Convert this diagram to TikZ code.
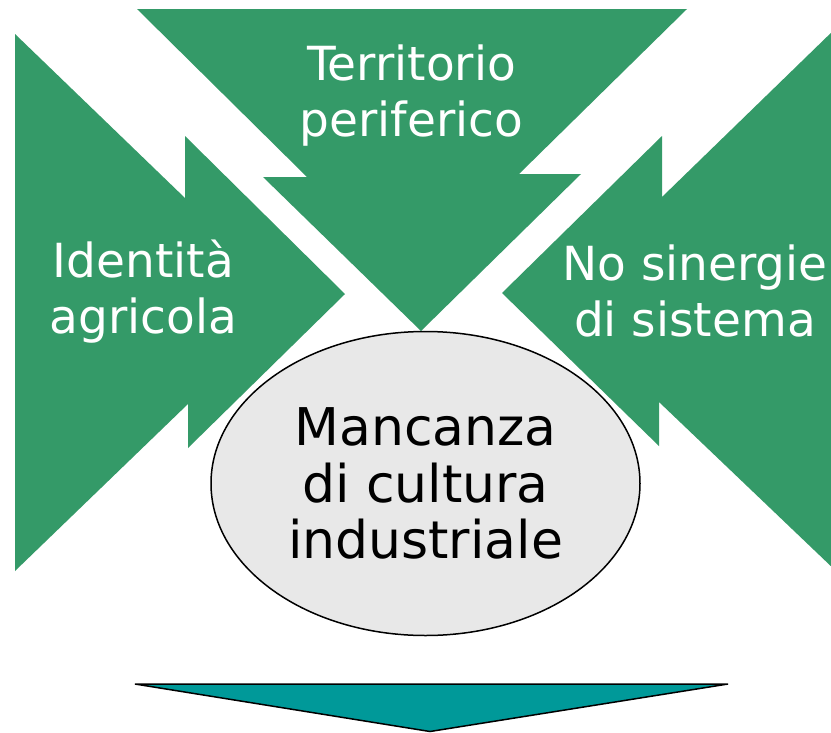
\documentclass[tikz,border=0pt]{standalone}
\usepackage{fontspec}
\setmainfont{DejaVu Sans}
\usetikzlibrary{shapes.geometric}
\definecolor{arrowgreen}{RGB}{52,154,104}
\definecolor{ellgrey}{RGB}{232,232,232}
\definecolor{tealarrow}{RGB}{0,153,153}
\begin{document}
\begin{tikzpicture}[x=1pt,y=-1pt,
  greenarrow/.style={fill=arrowgreen,draw=none},
  whitelabel/.style={text=white,font=\fontsize{47}{56}\selectfont,align=center,anchor=base,inner sep=0pt},
  corebox/.style={ellipse,draw=black,line width=1.5pt,fill=ellgrey,minimum width=429pt,minimum height=304pt,inner sep=0pt,
    font=\fontsize{52}{56.5}\selectfont,align=center,text=black},
  downarrow/.style={fill=tealarrow,draw=black,line width=1.5pt,line join=miter}]
\useasboundingbox (0,0) rectangle (831,732);
\clip (0,0) rectangle (831,732);
\fill[white] (0,0) rectangle (831,732);
% top arrow
\path[greenarrow] (137,9) -- (687,9) -- (519,174) -- (581,174) -- (421,331) -- (263,177) -- (307,177) -- cycle;
% left arrow
\path[greenarrow] (15,34) -- (185,198) -- (185,136) -- (345,294) -- (188,448) -- (188,404) -- (15,571) -- cycle;
% right arrow
\path[greenarrow] (836,28) -- (662,197) -- (662,136) -- (502,293) -- (659,446) -- (659,402) -- (836,571) -- cycle;
% labels (anchor at baseline of the last line)
\node[whitelabel] (terr) at (411.5,136) {Territorio\\periferico};
\node[whitelabel] (ident) at (143.5,333) {Identità\\agricola};
\node[whitelabel] (siner) at (695,336) {No sinergie\\di sistema};
% central ellipse
\node[corebox] (core) at (425.5,483.5) {Mancanza\\di cultura\\industriale};
% bottom arrow
\path[downarrow] (135,684) -- (728,684) -- (430,731.5) -- cycle;
\end{tikzpicture}
\end{document}
